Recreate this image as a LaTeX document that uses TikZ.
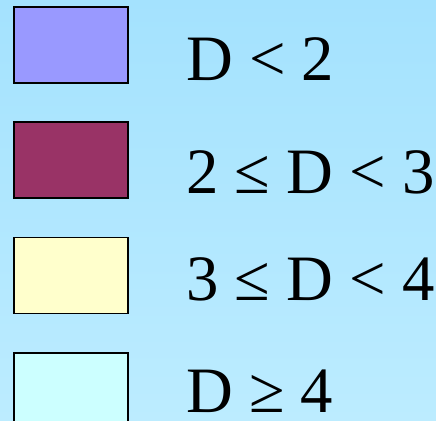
\documentclass[tikz,border=0pt]{standalone}
\usepackage{fontspec}
\setmainfont{Liberation Serif}
\usetikzlibrary{positioning}

\definecolor{bgtop}{RGB}{164,226,254}
\definecolor{bgbot}{RGB}{188,236,255}
\definecolor{dlow}{RGB}{153,153,255}
\definecolor{dmid}{RGB}{153,51,102}
\definecolor{dhigh}{RGB}{255,255,204}
\definecolor{dtop}{RGB}{204,255,255}

\begin{document}
\begin{tikzpicture}[
    x=1bp, y=-1bp,
    swatch/.style={draw=black, line width=1.75bp, minimum width=114bp, minimum height=76bp, inner sep=0pt},
    lbl/.style={anchor=base west, inner sep=0pt, font=\fontsize{65}{70}\selectfont}
]

    % Background
    \clip (0,0) rectangle (436,420);
    \shade[top color=bgtop, bottom color=bgbot] (0,0) rectangle (436,420);

    % Colour swatches
    \node[swatch, fill=dlow] (s1) at (71,45) {};
    \node[swatch, fill=dmid, below=37.5bp of s1] (s2) {};
    \node[swatch, fill=dhigh, below=37.5bp of s2] (s3) {};
    \node[swatch, fill=dtop, below=37.5bp of s3] (s4) {};

    % Labels
    \node[lbl] (t1) at (186,80) {D < 2};
    \node[lbl] (t2) at (186,193) {2 ≤ D < 3};
    \node[lbl] (t3) at (186,300) {3 ≤ D < 4};
    \node[lbl] (t4) at (186,412) {D ≥ 4};

\end{tikzpicture}
\end{document}
